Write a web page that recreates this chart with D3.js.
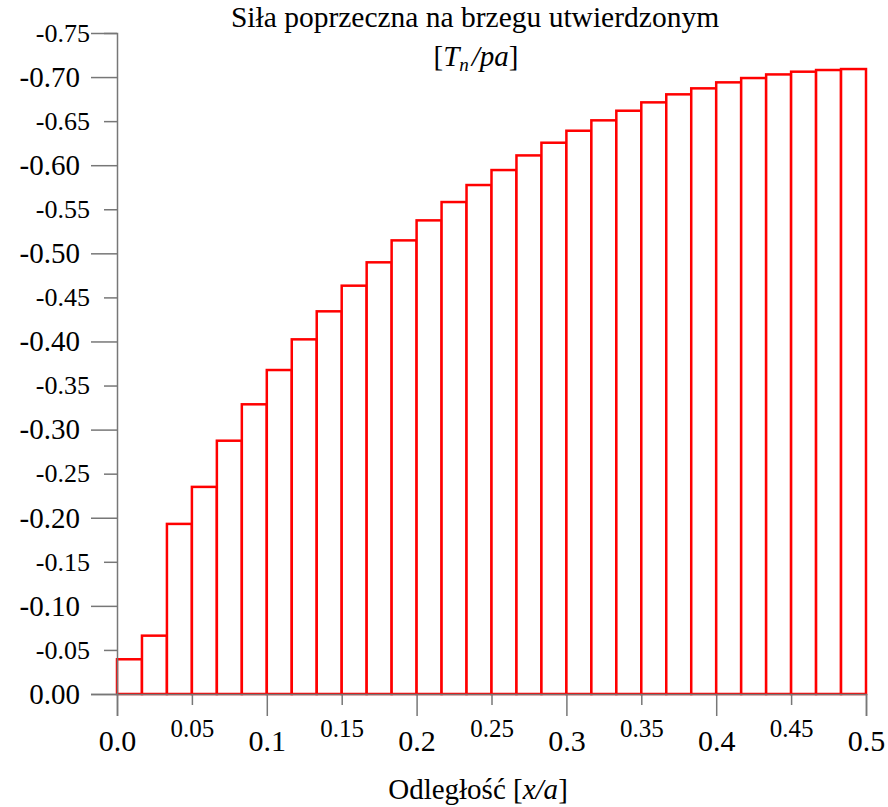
<!DOCTYPE html>
<html>
<head>
<meta charset="utf-8">
<script src="https://cdn.jsdelivr.net/npm/d3@7"></script>
<style>
  body { margin: 0; background: #fff; }
  svg { display: block; font-family: "Liberation Serif", "DejaVu Serif", serif; }
</style>
</head>
<body>
<svg id="chart" width="888" height="807"></svg>
<script>
// data
const binWidth = 1 / 60;
const forceValues = [
  -0.0394, -0.0662, -0.1930, -0.2350, -0.2874, -0.3287, -0.3676, -0.4024,
  -0.4342, -0.4633, -0.4898, -0.5147, -0.5374, -0.5582, -0.5775, -0.5945,
  -0.6111, -0.6255, -0.6391, -0.6509, -0.6618, -0.6713, -0.6804, -0.6872,
  -0.6940, -0.6989, -0.7030, -0.7061, -0.7080, -0.7091
];
const xMajorTicks = [0, 0.1, 0.2, 0.3, 0.4, 0.5];
const xMinorTicks = [0.05, 0.15, 0.25, 0.35, 0.45];
const yMajorTicks = [0, -0.1, -0.2, -0.3, -0.4, -0.5, -0.6, -0.7];
const yMinorTicks = [-0.05, -0.15, -0.25, -0.35, -0.45, -0.55, -0.65, -0.75];

const svg = d3.select("#chart");
const axisColor = "#777";
const serif = "'Liberation Serif', serif";

const x = d3.scaleLinear().domain([0, 0.5]).range([117, 866]);
const y = d3.scaleLinear().domain([0, -0.75]).range([694, 33]);

// zwykły minus (łącznik), jak na oryginale
const fmt = p => d => d.toFixed(p).replace("-0." + "0".repeat(p), "0." + "0".repeat(p));

// słupki
svg.append("g")
  .selectAll("rect")
  .data(forceValues)
  .join("rect")
  .attr("x", (d, i) => x(i * binWidth))
  .attr("width", (d, i) => x((i + 1) * binWidth) - x(i * binWidth))
  .attr("y", d => y(d))
  .attr("height", d => y(0) - y(d))
  .attr("fill", "white")
  .attr("stroke", "#ff0000")
  .attr("stroke-width", 2.5);

function styleAxis(g, size) {
  g.attr("font-family", serif);
  g.select(".domain").attr("stroke", axisColor).attr("stroke-width", 1.5);
  g.selectAll(".tick line").attr("stroke", axisColor).attr("stroke-width", 1.5);
  g.selectAll(".tick text")
    .attr("fill", "#000")
    .style("font-family", serif)
    .style("font-size", size + "px");
}

// oś Y
svg.append("g")
  .attr("transform", `translate(${x(0)},0)`)
  .call(d3.axisLeft(y).tickValues(yMajorTicks).tickSize(26).tickPadding(11)
    .tickFormat(fmt(2)))
  .call(g => styleAxis(g, 29));
svg.append("g")
  .attr("transform", `translate(${x(0)},0)`)
  .call(d3.axisLeft(y).tickValues(yMinorTicks).tickSize(13).tickPadding(14)
    .tickFormat(fmt(2)))
  .call(g => styleAxis(g, 26))
  .call(g => g.select(".domain").remove());

// oś X
svg.append("g")
  .attr("transform", `translate(0,${y(0)})`)
  .call(d3.axisBottom(x).tickValues(xMajorTicks).tickSize(22).tickPadding(14)
    .tickFormat(fmt(1)))
  .call(g => styleAxis(g, 30));
svg.append("g")
  .attr("transform", `translate(0,${y(0)})`)
  .call(d3.axisBottom(x).tickValues(xMinorTicks).tickSize(11).tickPadding(14)
    .tickFormat(fmt(2)))
  .call(g => styleAxis(g, 25))
  .call(g => g.select(".domain").remove());

// tytuł
svg.append("text")
  .attr("x", 475)
  .attr("y", 27)
  .attr("text-anchor", "middle")
  .style("font-size", "29.5px")
  .text("Siła poprzeczna na brzegu utwierdzonym");

const unit = svg.append("text")
  .attr("x", 476)
  .attr("y", 66)
  .attr("text-anchor", "middle")
  .style("font-size", "29px");
unit.append("tspan").text("[");
unit.append("tspan").style("font-style", "italic").text("T");
unit.append("tspan").style("font-style", "italic").style("font-size", "19px").attr("dy", 5).text("n");
unit.append("tspan").style("font-style", "italic").attr("dy", -5).attr("dx", 3).text("/pa");
unit.append("tspan").text("]");

// opis osi X
const xLabel = svg.append("text")
  .attr("x", 478)
  .attr("y", 799)
  .attr("text-anchor", "middle")
  .style("font-size", "29px");
xLabel.append("tspan").text("Odległość [");
xLabel.append("tspan").style("font-style", "italic").text("x/a");
xLabel.append("tspan").text("]");
</script>
</body>
</html>
